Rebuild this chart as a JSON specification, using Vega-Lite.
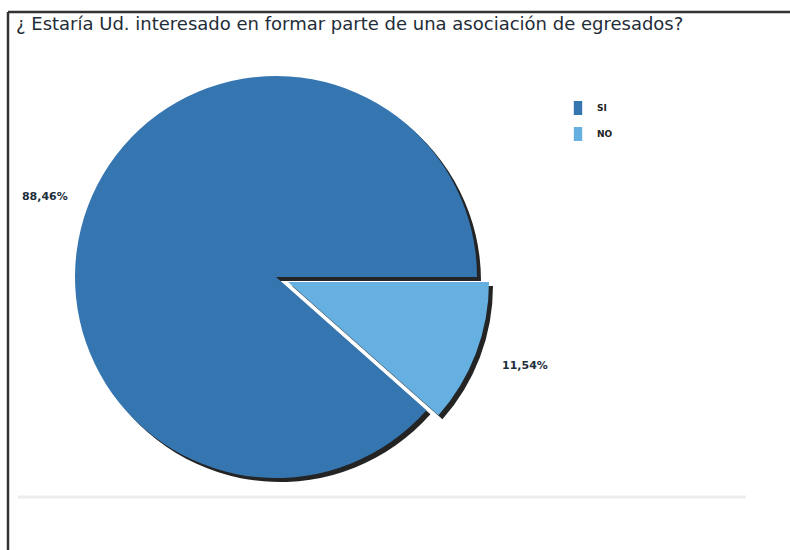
{
  "$schema": "https://vega.github.io/schema/vega-lite/v6.json",
  "width": 782,
  "height": 538,
  "autosize": {"type": "none"},
  "padding": {"left": 8, "top": 12, "right": 0, "bottom": 0},
  "background": "#ffffff",
  "title": {
    "text": "¿ Estaría Ud. interesado en formar parte de una asociación de egresados?",
    "anchor": "start",
    "frame": "group",
    "orient": "top",
    "baseline": "alphabetic",
    "offset": -37,
    "dx": 8,
    "font": "DejaVu Sans",
    "fontSize": 18,
    "fontWeight": "normal",
    "color": "#1f2d38"
  },
  "data": {
    "values": [
      {"category": "SI", "value": 88.46, "label": "88,46%"},
      {"category": "NO", "value": 11.54, "label": "11,54%"}
    ]
  },
  "transform": [
    {"stack": "value", "groupby": [], "sort": [{"field": "category", "order": "ascending"}], "as": ["v0", "v1"]}
  ],
  "layer": [
    {
      "data": {"values": [{"k": 1}]},
      "mark": {"type": "rule", "color": "#333333", "strokeWidth": 2.5},
      "encoding": {"x": {"value": 0}, "x2": {"value": 782}, "y": {"value": 0}}
    },
    {
      "data": {"values": [{"k": 1}]},
      "mark": {"type": "rule", "color": "#333333", "strokeWidth": 2.5},
      "encoding": {"x": {"value": 0}, "y": {"value": 0}, "y2": {"value": 538}}
    },
    {
      "data": {"values": [{"k": 1}]},
      "mark": {"type": "rule", "color": "#ededed", "strokeWidth": 3},
      "encoding": {"x": {"value": 10}, "x2": {"value": 738}, "y": {"value": 485}}
    },
    {
      "transform": [{"filter": "datum.category === 'SI'"}],
      "mark": {"type": "arc", "outerRadius": 201, "color": "#0c0c0c", "opacity": 0.9},
      "encoding": {
        "theta": {"field": "v0", "type": "quantitative", "scale": {"domain": [0, 100], "range": [1.5708, 7.854]}},
        "theta2": {"field": "v1"},
        "x": {"value": 272},
        "y": {"value": 269}
      }
    },
    {
      "transform": [{"filter": "datum.category === 'NO'"}],
      "mark": {"type": "arc", "outerRadius": 201, "color": "#0c0c0c", "opacity": 0.9},
      "encoding": {
        "theta": {"field": "v0", "type": "quantitative"},
        "theta2": {"field": "v1"},
        "x": {"value": 284},
        "y": {"value": 274}
      }
    },
    {
      "transform": [{"filter": "datum.category === 'SI'"}],
      "mark": {"type": "arc", "outerRadius": 201},
      "encoding": {
        "theta": {"field": "v0", "type": "quantitative"},
        "theta2": {"field": "v1"},
        "x": {"value": 268},
        "y": {"value": 265},
        "color": {
          "field": "category",
          "type": "nominal",
          "scale": {"domain": ["SI", "NO"], "range": ["#3576b1", "#65b0e1"]},
          "legend": {
            "title": null,
            "orient": "none",
            "legendX": 563,
            "legendY": 89,
            "padding": 0,
            "symbolType": "M-0.6,-1h1.2v2h-1.2Z",
            "symbolSize": 196,
            "symbolStrokeWidth": 0,
            "labelFont": "DejaVu Sans",
            "labelFontSize": 9,
            "labelFontWeight": "bold",
            "labelColor": "#222222",
            "labelOffset": 12,
            "rowPadding": 12
          }
        }
      }
    },
    {
      "transform": [{"filter": "datum.category === 'NO'"}],
      "mark": {"type": "arc", "outerRadius": 201},
      "encoding": {
        "theta": {"field": "v0", "type": "quantitative"},
        "theta2": {"field": "v1"},
        "x": {"value": 280},
        "y": {"value": 270},
        "color": {"field": "category", "type": "nominal"}
      }
    },
    {
      "mark": {"type": "text", "font": "DejaVu Sans", "fontSize": 11, "fontWeight": "bold", "color": "#1c2e3a", "align": "center", "baseline": "middle"},
      "encoding": {
        "theta": {"field": "value", "type": "quantitative", "stack": true},
        "order": {"field": "category", "sort": "ascending"},
        "detail": {"field": "category"},
        "radius": {"value": 244},
        "x": {"value": 265},
        "y": {"value": 272},
        "text": {"condition": {"test": "datum.category === 'SI'", "field": "label"}, "value": ""}
      }
    },
    {
      "mark": {"type": "text", "font": "DejaVu Sans", "fontSize": 11, "fontWeight": "bold", "color": "#1c2e3a", "align": "center", "baseline": "middle"},
      "encoding": {
        "theta": {"field": "value", "type": "quantitative", "stack": true},
        "order": {"field": "category", "sort": "ascending"},
        "detail": {"field": "category"},
        "radius": {"value": 263},
        "x": {"value": 271},
        "y": {"value": 261},
        "text": {"condition": {"test": "datum.category === 'NO'", "field": "label"}, "value": ""}
      }
    }
  ],
  "config": {"view": {"stroke": null}}
}
